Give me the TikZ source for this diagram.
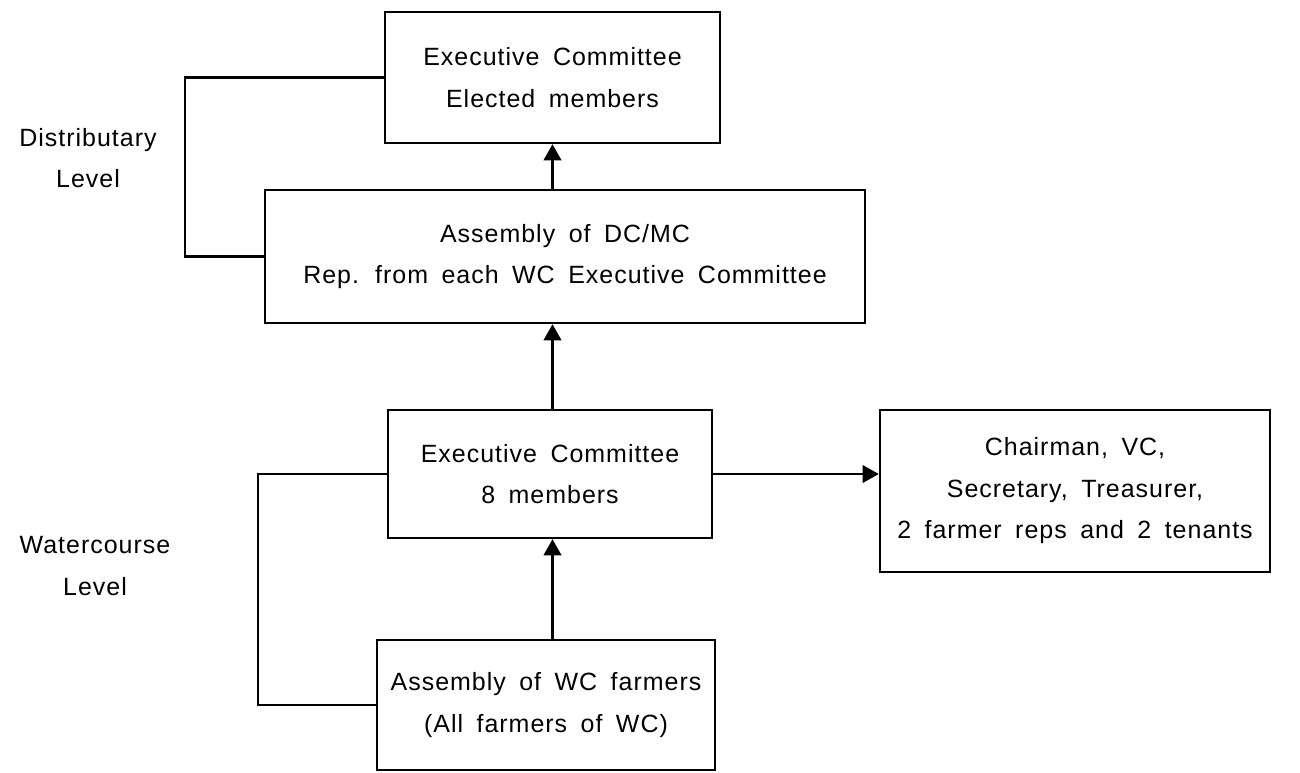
\documentclass[tikz,border=0pt]{standalone}
\usepackage{fontspec}
\setmainfont{Liberation Sans}[LetterSpace=4,WordSpace=1.7]
\usepackage{tikz}
\usetikzlibrary{arrows.meta,positioning,calc}

\tikzset{
  orgbox/.style={draw, line width=0.65pt, align=center, inner sep=0pt},
  uparrow/.style={line width=0.65pt, -{Triangle[length=4.6pt,width=5pt]}},
  bracket/.style={line width=0.65pt},
  levellabel/.style={align=center}
}

\begin{document}
\begin{tikzpicture}[x=0.01cm, y=-0.01cm, font=\fontsize{7.1}{11.8}\selectfont]
\useasboundingbox (0,0) rectangle (1300,772);
% =================== distributary level ===================
\node[orgbox, minimum width=3.35cm, minimum height=1.31cm] (exec) at (552.5,77.5)
   {Executive Committee\\Elected members};
\node[orgbox, minimum width=6.0cm, minimum height=1.33cm] (dcmc) at (565,256.5)
   {Assembly of DC/MC\\Rep. from each WC Executive Committee};
\draw[uparrow] (dcmc.north -| exec.south) -- (exec.south);
% bracket and label
\coordinate (dbar) at (185,0);
\draw[bracket] (exec.west) -| (dbar |- dcmc.west) -- (dcmc.west);
\node[levellabel] (dlevel) at (88,158) {Distributary\\Level};
% =================== watercourse level ===================
\node[orgbox, minimum width=3.24cm, minimum height=1.28cm] (wcexec) at (550,474)
   {Executive Committee\\8 members};
\node[orgbox, minimum width=3.38cm, minimum height=1.30cm] (farmers) at (546,705)
   {Assembly of WC farmers\\(All farmers of WC)};
\node[orgbox, minimum width=3.90cm, minimum height=1.62cm] (officers) at (1075,491)
   {Chairman, VC,\\Secretary, Treasurer,\\2 farmer reps and 2 tenants};
\draw[uparrow] (wcexec.north -| exec.south) -- (dcmc.south -| exec.south);
\draw[uparrow] (farmers.north -| exec.south) -- (wcexec.south -| exec.south);
\draw[uparrow] (wcexec.east) -- (officers.west |- wcexec.east);
% bracket and label
\coordinate (wbar) at (258,0);
\draw[bracket] (wcexec.west) -| (wbar |- farmers.west) -- (farmers.west);
\node[levellabel] (wlevel) at (95,566) {Watercourse\\Level};
\end{tikzpicture}
\end{document}
